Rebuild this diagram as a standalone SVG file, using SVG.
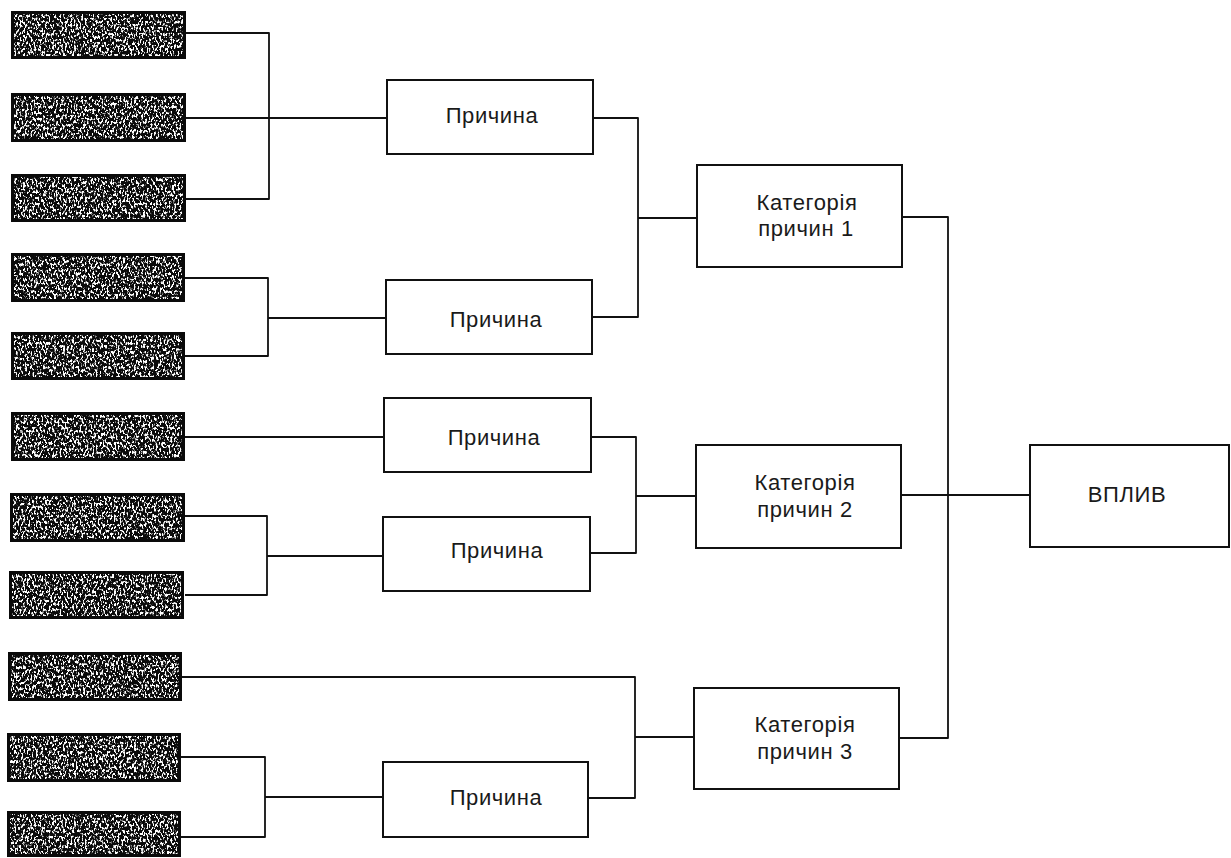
<svg xmlns="http://www.w3.org/2000/svg" width="1231" height="858" viewBox="0 0 1231 858">
<style>
  .bg { fill: #ffffff; }
  .src { fill: #0a0a0a; }
  .spk { fill: #000; filter: url(#speck); }
  .box { fill: #ffffff; stroke: #111; stroke-width: 2; }
  .lbl { font-family: "Liberation Sans", Arial, sans-serif; font-size: 22px; letter-spacing: 0.6px; fill: #1a1a1a; text-anchor: middle; }
  .conn { fill: none; stroke: #111; stroke-width: 1.8; stroke-linejoin: round; }
</style>
<defs>
  <filter id="speck" x="0" y="0" width="1" height="1" filterUnits="objectBoundingBox" color-interpolation-filters="sRGB">
    <feTurbulence type="fractalNoise" baseFrequency="0.55 0.33" numOctaves="2" seed="7" result="n"/>
    <feColorMatrix in="n" type="matrix" values="0 0 0 0 1  0 0 0 0 1  0 0 0 0 1  10 0 0 0 -5.15" result="s"/>
  </filter>
</defs>
<rect class="bg" x="0" y="0" width="1231" height="858"/>

<g id="connectors">
  <path class="conn" d="M186,33 H269 V199 H186 M186,118 H387"/>
  <path class="conn" d="M185,278 H268 V356 H185 M268,318 H386"/>
  <path class="conn" d="M185,437 H384"/>
  <path class="conn" d="M185,516 H267 V595 H185 M267,556 H383"/>
  <path class="conn" d="M181,757 H265 V837 H181 M265,797 H383"/>
  <path class="conn" d="M593,118 H638 V317 H592 M638,218 H697"/>
  <path class="conn" d="M591,437 H636 V553 H590 M636,496 H696"/>
  <path class="conn" d="M182,677 H635 V798 H588 M635,737 H694"/>
  <path class="conn" d="M902,217 H948 V738 H899 M901,495 H1030"/>
</g>

<g id="src1"><rect class="src" x="11" y="11" width="175" height="48"/><rect class="spk" x="14" y="14" width="169" height="42"/></g>
<g id="src2"><rect class="src" x="11" y="93" width="175" height="49"/><rect class="spk" x="14" y="96" width="169" height="43"/></g>
<g id="src3"><rect class="src" x="11" y="174" width="175" height="48"/><rect class="spk" x="14" y="177" width="169" height="42"/></g>
<g id="src4"><rect class="src" x="11" y="253" width="174" height="49"/><rect class="spk" x="14" y="256" width="168" height="43"/></g>
<g id="src5"><rect class="src" x="11" y="332" width="174" height="48"/><rect class="spk" x="14" y="335" width="168" height="42"/></g>
<g id="src6"><rect class="src" x="11" y="412" width="174" height="49"/><rect class="spk" x="14" y="415" width="168" height="43"/></g>
<g id="src7"><rect class="src" x="10" y="493" width="175" height="49"/><rect class="spk" x="13" y="496" width="169" height="43"/></g>
<g id="src8"><rect class="src" x="9" y="571" width="175" height="48"/><rect class="spk" x="12" y="574" width="169" height="42"/></g>
<g id="src9"><rect class="src" x="8" y="652" width="174" height="49"/><rect class="spk" x="11" y="655" width="168" height="43"/></g>
<g id="src10"><rect class="src" x="7" y="733" width="174" height="49"/><rect class="spk" x="10" y="736" width="168" height="43"/></g>
<g id="src11"><rect class="src" x="7" y="811" width="174" height="46"/><rect class="spk" x="10" y="814" width="168" height="40"/></g>

<g id="cause1"><rect class="box" x="387" y="80" width="206" height="74"/><text class="lbl" x="492" y="123">Причина</text></g>
<g id="cause2"><rect class="box" x="386" y="280" width="206" height="74"/><text class="lbl" x="496" y="327">Причина</text></g>
<g id="cause3"><rect class="box" x="384" y="398" width="207" height="74"/><text class="lbl" x="494" y="445">Причина</text></g>
<g id="cause4"><rect class="box" x="383" y="517" width="207" height="74"/><text class="lbl" x="497" y="558">Причина</text></g>
<g id="cause5"><rect class="box" x="383" y="762" width="205" height="75"/><text class="lbl" x="496" y="805">Причина</text></g>

<g id="cat1"><rect class="box" x="697" y="165" width="205" height="102"/><text class="lbl" x="807" y="210">Категорія</text><text class="lbl" x="806" y="236">причин 1</text></g>
<g id="cat2"><rect class="box" x="696" y="445" width="205" height="103"/><text class="lbl" x="805" y="490">Категорія</text><text class="lbl" x="805" y="517">причин 2</text></g>
<g id="cat3"><rect class="box" x="694" y="688" width="205" height="101"/><text class="lbl" x="805" y="732">Категорія</text><text class="lbl" x="805" y="759">причин 3</text></g>

<g id="impact"><rect class="box" x="1030" y="445" width="199" height="102"/><text class="lbl" x="1127" y="502">ВПЛИВ</text></g>
</svg>
